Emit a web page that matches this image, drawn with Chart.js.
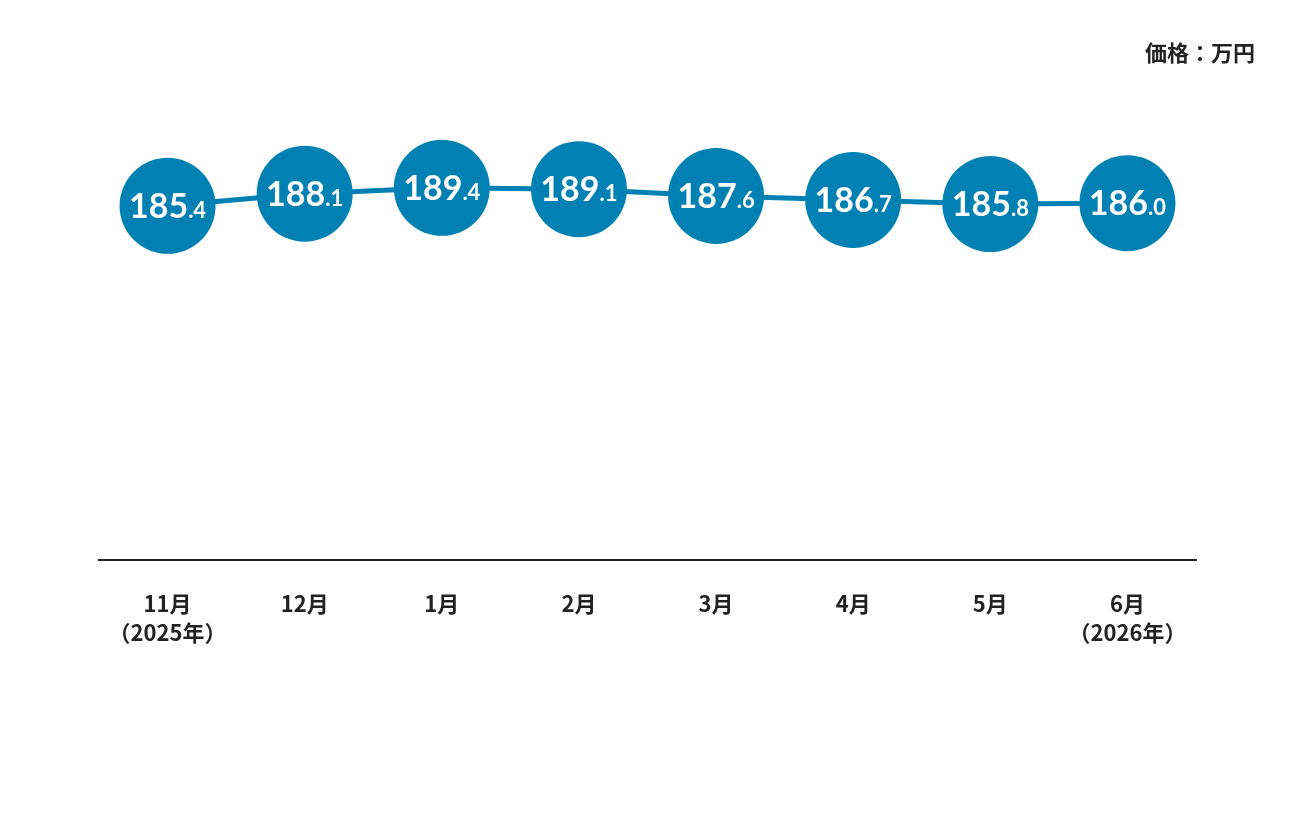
<!DOCTYPE html>
<html>
<head>
<meta charset="utf-8">
<script src="https://cdn.jsdelivr.net/npm/chart.js@4.4.1/dist/chart.umd.min.js"></script>
<style>
  html, body { margin: 0; padding: 0; background: #fff; }
  #wrap { position: relative; width: 1296px; height: 816px; }
  #unit {
    position: absolute; right: 41px; top: 35px;
    font-family: "Noto Sans CJK JP", sans-serif; font-weight: 700;
    font-size: 22px; color: #222;
  }
</style>
</head>
<body>
<div id="wrap">
  <canvas id="myChart" width="1296" height="816"></canvas>
  <div id="unit">価格：万円</div>
</div>
<script>
// categories and values
const months = ['11月', '12月', '1月', '2月', '3月', '4月', '5月', '6月'];
const years = ['（2025年）', '', '', '', '', '', '', '（2026年）'];
const prices = [185.4, 188.1, 189.4, 189.1, 187.6, 186.7, 185.8, 186.0];

const blue = '#0080b3';

// write the value inside each bubble: big integer part, small decimal part
const bubbleLabels = {
    id: 'bubbleLabels',
    afterDatasetsDraw(chart) {
        const ctx = chart.ctx;
        const meta = chart.getDatasetMeta(0);
        ctx.save();
        ctx.fillStyle = '#fff';
        ctx.textBaseline = 'alphabetic';
        ctx.textAlign = 'left';
        meta.data.forEach((pt, i) => {
            const parts = prices[i].toFixed(1).split('.');
            const big = parts[0];
            const small = '.' + parts[1];
            ctx.font = '700 34px Lato';
            const wBig = ctx.measureText(big).width;
            ctx.font = '700 22px Lato';
            const wSmall = ctx.measureText(small).width;
            const x0 = pt.x - (wBig + wSmall) / 2;
            const base = pt.y + 12;
            ctx.font = '700 34px Lato';
            ctx.fillText(big, x0, base);
            ctx.font = '700 22px Lato';
            ctx.fillText(small, x0 + wBig, base);
        });
        ctx.restore();
    }
};

const ctx = document.getElementById('myChart').getContext('2d');
const myChart = new Chart(ctx, {
    type: 'line',
    data: {
        labels: months.map((m, i) => years[i] ? [m, years[i]] : m),
        datasets: [{
            data: prices,
            borderColor: blue,
            borderWidth: 5,
            pointRadius: 48,
            pointHoverRadius: 48,
            pointBackgroundColor: blue,
            pointBorderColor: blue,
            pointBorderWidth: 0,
            tension: 0,
            fill: false
        }]
    },
    options: {
        responsive: false,
        animation: false,
        events: [],
        layout: { padding: { top: 110, left: 99, right: 100, bottom: 0 } },
        plugins: {
            legend: { display: false },
            tooltip: { enabled: false }
        },
        scales: {
            x: {
                offset: true,
                grid: { display: false, drawTicks: false },
                border: { display: true, color: '#222', width: 2 },
                ticks: {
                    padding: 30,
                    maxRotation: 0,
                    autoSkip: false,
                    color: '#222',
                    font: { family: '"Noto Sans CJK JP"', size: 22, weight: '700', lineHeight: 1.28 }
                },
                afterFit: (scale) => { scale.height = 256; }
            },
            y: {
                display: false,
                min: 106.7,
                max: 206.7
            }
        }
    },
    plugins: [bubbleLabels]
});
</script>
</body>
</html>
